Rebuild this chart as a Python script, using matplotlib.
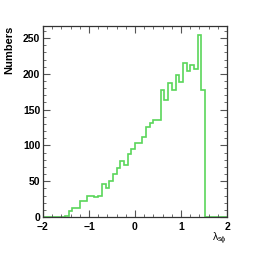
import numpy as np
import matplotlib.pyplot as plt
from matplotlib.ticker import MultipleLocator

# histogram of lambda_sphi, 50 bins from -2 to 2
x_min = -2.0
x_max = 2.0
n_bins = 50
counts = [0, 0, 0, 0, 0, 0,
          2, 8, 13, 13, 23, 23, 30, 30, 28, 30,
          46, 41, 51, 60, 68, 78, 73, 88, 95, 103,
          103, 112, 126, 131, 136, 135, 177, 163, 187, 178,
          198, 188, 215, 204, 212, 207, 254, 177,
          0, 0, 0, 0, 0, 0]
x_ticks = [-2, -1, 0, 1, 2]
y_ticks = [0, 50, 100, 150, 200, 250]

edges = np.linspace(x_min, x_max, n_bins + 1)

plt.rcParams['font.family'] = ['Liberation Sans', 'DejaVu Sans']
plt.rcParams['mathtext.fontset'] = 'dejavusans'

fig = plt.figure(figsize=(2.7, 2.59), dpi=100)
ax = fig.add_axes([0.159, 0.162, 0.682, 0.738])

ax.stairs(counts, edges, color='#5ad65a', linewidth=1.2)

ax.set_xlim(x_min, x_max)
ax.set_ylim(0, 267)
ax.set_xticks(x_ticks)
ax.set_yticks(y_ticks)
ax.xaxis.set_minor_locator(MultipleLocator(0.2))
ax.yaxis.set_minor_locator(MultipleLocator(10))
ax.tick_params(which='both', direction='in', top=True, right=True,
               color='#555555', labelsize=7.5, pad=2)
ax.tick_params(axis='x', which='major', pad=3.5)
ax.tick_params(which='major', length=5)
ax.tick_params(which='minor', length=2.5)
for lab in ax.get_xticklabels() + ax.get_yticklabels():
    lab.set_fontweight('bold')
for sp in ax.spines.values():
    sp.set_linewidth(0.9)
    sp.set_color('#333333')

ax.set_ylabel('Numbers', loc='top', fontsize=8, fontweight='bold', labelpad=6)
ax.set_xlabel(r'$\mathregular{\lambda_{s\phi}}$', loc='right', fontsize=7.5, labelpad=-1)

fig.savefig('out.png', dpi=100)
